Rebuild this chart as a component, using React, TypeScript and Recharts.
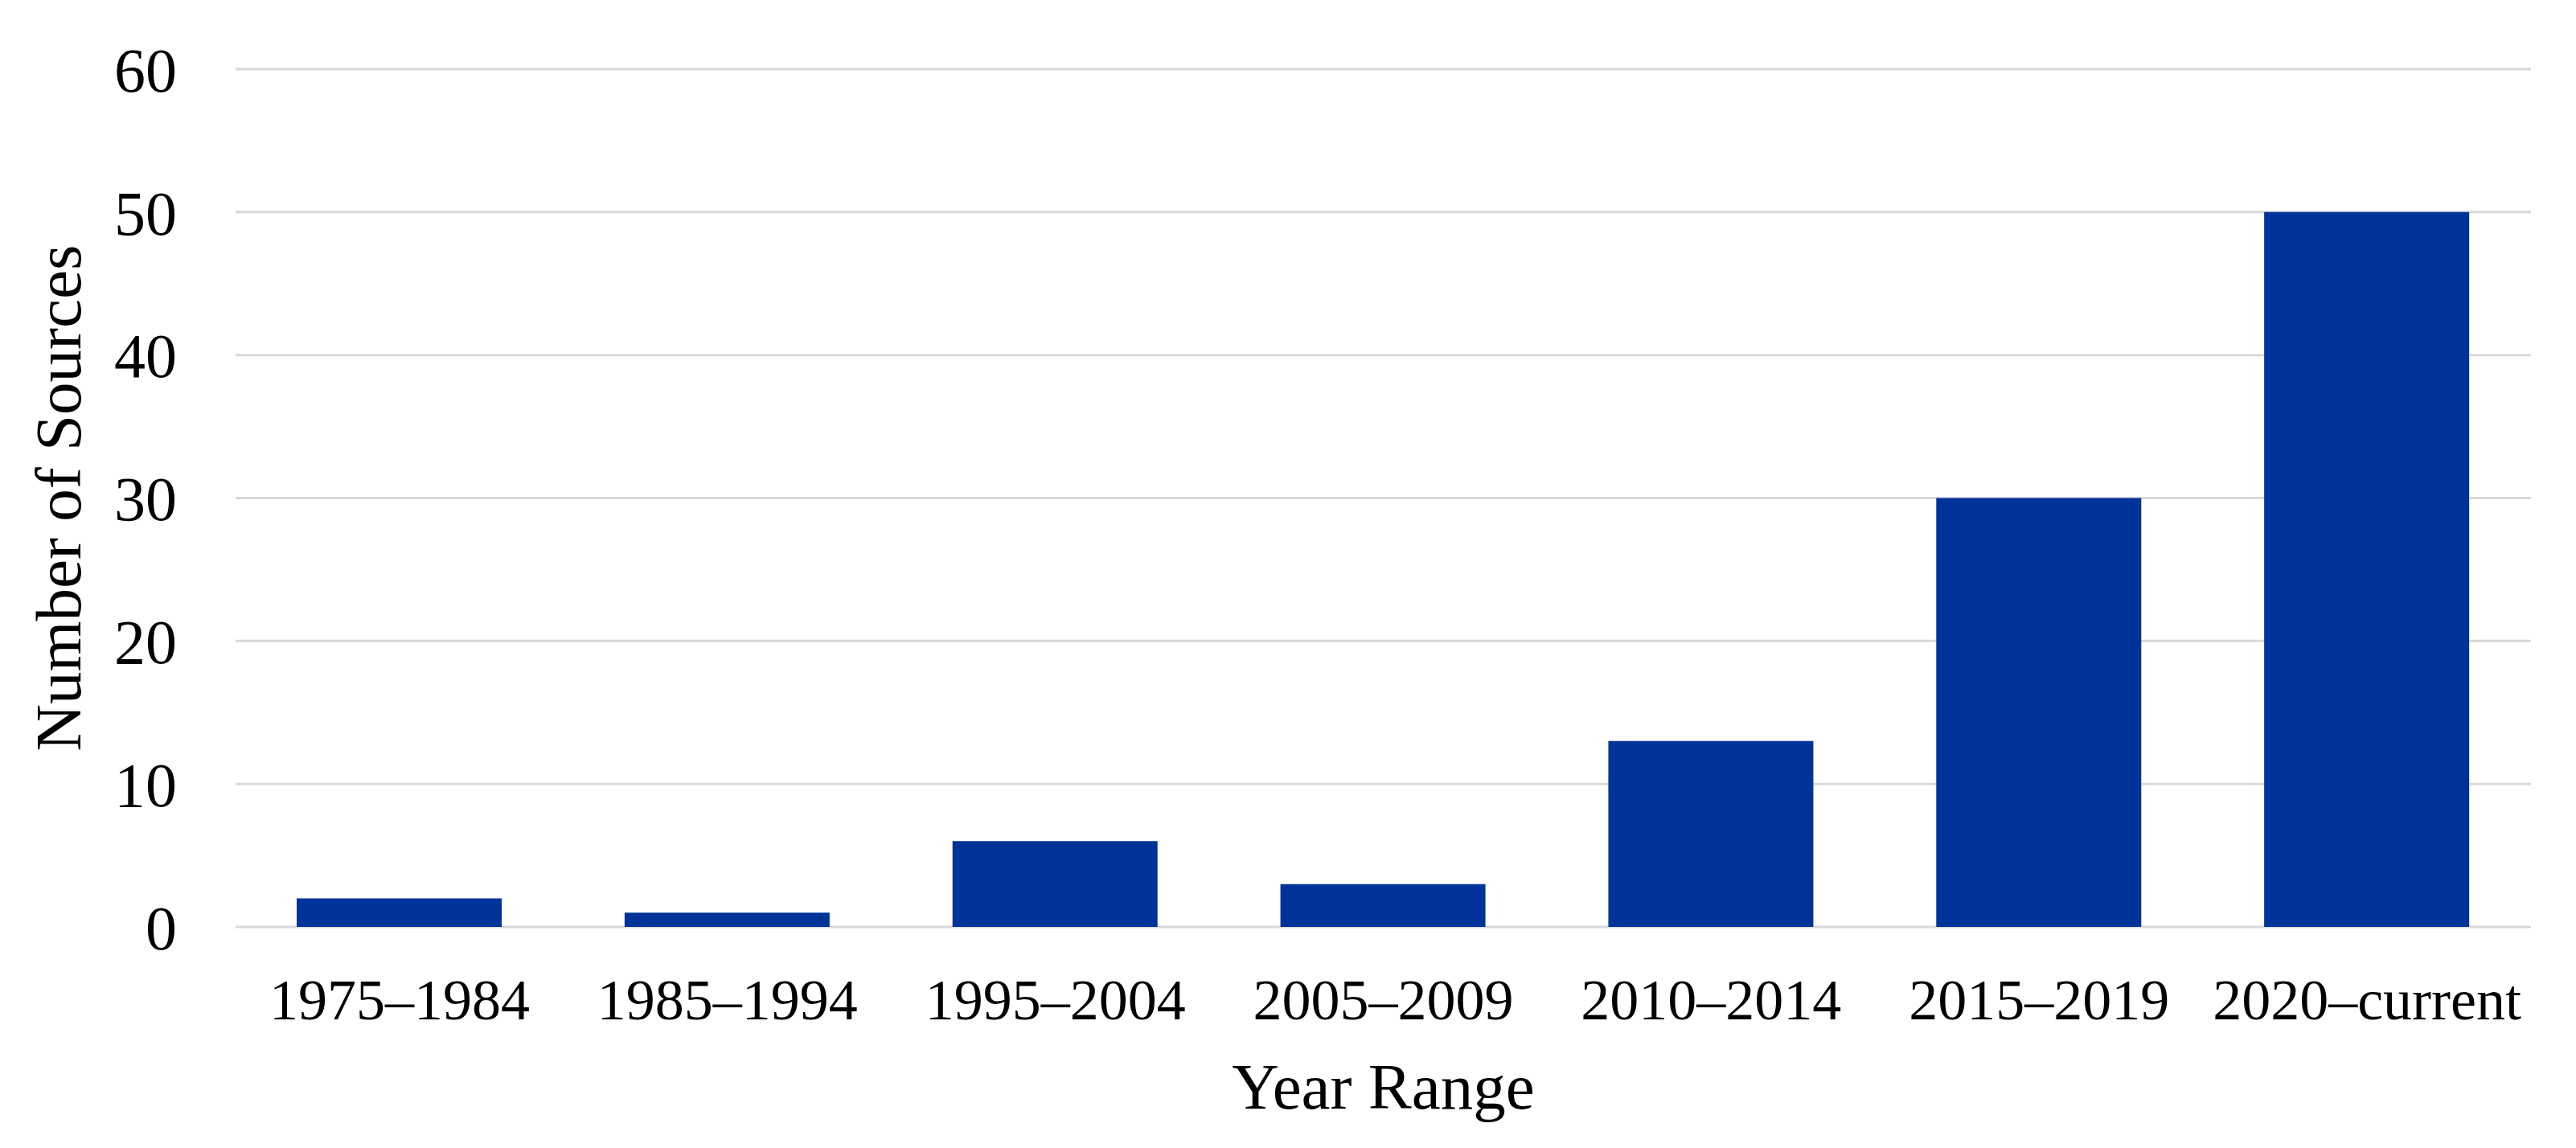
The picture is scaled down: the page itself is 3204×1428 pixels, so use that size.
import { BarChart, Bar, XAxis, YAxis, CartesianGrid } from "recharts";

const yearRanges = [
  "1975–1984",
  "1985–1994",
  "1995–2004",
  "2005–2009",
  "2010–2014",
  "2015–2019",
  "2020–current",
];
const sourceCounts = [2, 1, 6, 3, 13, 30, 50];
const yTicks = [0, 10, 20, 30, 40, 50, 60];

const data = yearRanges.map((range, i) => ({ range, sources: sourceCounts[i] }));

const FONT = '"Liberation Serif", "Times New Roman", serif';

export default function App() {
  return (
    <div style={{ width: 3188, height: 1412, background: "#fff" }}>
      <BarChart
        width={3188}
        height={1412}
        data={data}
        margin={{ top: 78, right: 48, left: 0, bottom: 37 }}
      >
        <CartesianGrid
          vertical={false}
          stroke="#d9d9d9"
          strokeWidth={3}
        />
        <XAxis
          dataKey="range"
          height={230}
          axisLine={false}
          tickLine={false}
          tickSize={6}
          tickMargin={58}
          interval={0}
          tick={{ fill: "#000", fontSize: 72, fontFamily: FONT }}
          label={{
            value: "Year Range",
            position: "insideBottom",
            offset: 4,
            style: { fill: "#000", fontSize: 81, fontFamily: FONT },
          }}
        />
        <YAxis
          width={285}
          domain={[0, 60]}
          ticks={yTicks}
          axisLine={false}
          tickLine={false}
          tickSize={6}
          tickMargin={67}
          tick={{ fill: "#000", fontSize: 78, fontFamily: FONT }}
          label={{
            value: "Number of Sources",
            angle: -90,
            position: "insideLeft",
            offset: 63,
            style: {
              fill: "#000",
              fontSize: 81,
              fontFamily: FONT,
              textAnchor: "middle",
            },
          }}
        />
        <Bar
          dataKey="sources"
          fill="#003399"
          barSize={255}
          isAnimationActive={false}
        />
      </BarChart>
    </div>
  );
}
